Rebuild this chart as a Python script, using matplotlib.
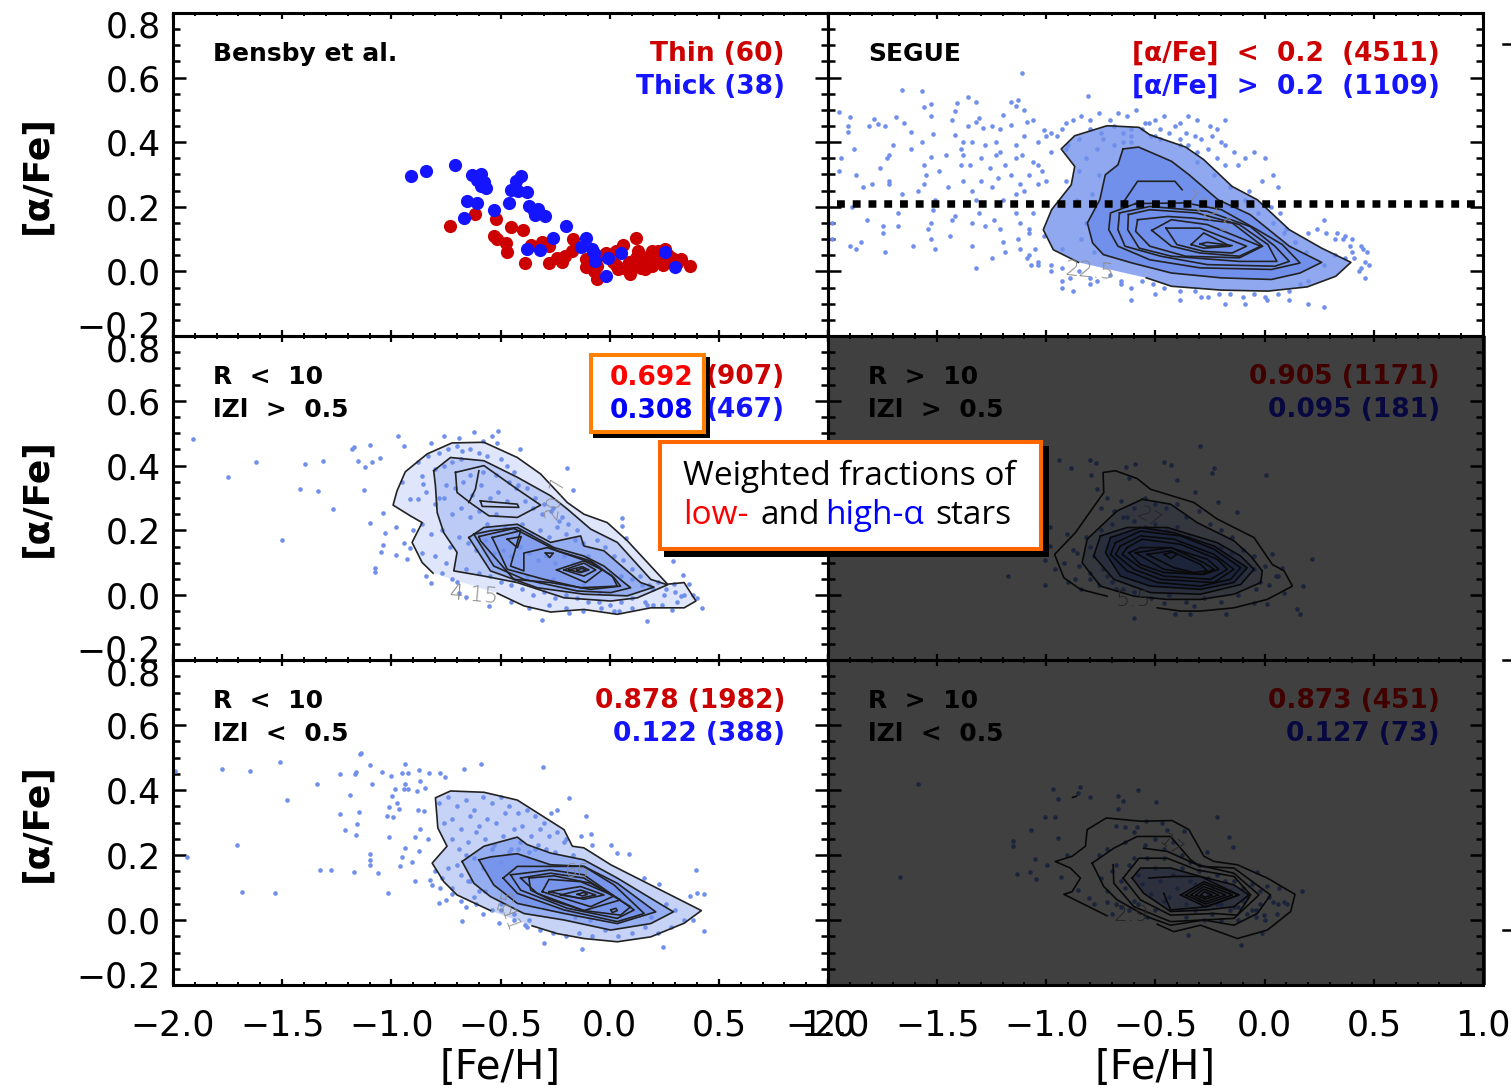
import matplotlib
matplotlib.use("Agg")
import matplotlib.pyplot as plt
from matplotlib.patches import Rectangle
from matplotlib.lines import Line2D
from matplotlib.ticker import MultipleLocator
from matplotlib.transforms import ScaledTranslation

W, H = 1511, 1090
BLUE_PT = "#7090ec"
RED_D = "#cc0000"
BLUE_T = "#1414ff"

# ---------------- data ----------------
bensby_thick_x = [-.91,-.84,-.709,-.632,-.588,-.575,-.588,-.566,-.408,-.427,-.452,-.418,-.378,-.46,-.653,-.607,-.529,-.37,-.328,-.342,-.296,-.669,-.198,-.26,-.378,-.321,-.108,-.132,-.08,-.067,-.009,.051,.252,.301,-.018,-.07,-.346,-.607]
bensby_thick_y = [.295,.31,.328,.298,.303,.276,.264,.259,.295,.279,.253,.248,.245,.212,.219,.212,.19,.204,.192,.176,.171,.166,.142,.104,.068,.065,.104,.076,.07,.032,.042,.057,.06,.013,-.015,.058,.186,.284]
bensby_thin_x = [-.73,-.619,-.52,-.452,-.399,-.529,-.517,-.476,-.468,-.386,-.362,-.312,-.279,-.168,-.173,-.206,-.239,-.279,-.217,-.108,-.108,-.058,-.058,-.018,.031,.061,.121,.13,.121,.031,.04,.094,.097,.13,.162,.195,.195,.22,.252,.245,.285,.329,.368,.162,.211,.13,.065,.179,.269,.31,.014,-.071,.079,.143,.229,.175,.261,-.028,.089,.293]
bensby_thin_y = [.14,.179,.161,.138,.128,.111,.101,.088,.061,.027,.081,.091,.078,.099,.063,.047,.042,.027,.029,.039,.014,.016,-.023,.057,.063,.083,.102,.063,.042,.021,.006,-.009,.021,.027,.006,.063,.016,.063,.068,.021,.042,.039,.018,.037,.032,.052,.011,.047,.052,.027,.03,.0,.01,.01,.04,.03,.03,.05,.03,.035]

segue_x = [-1.11,-1.66,-1.57,-1.36,-1.32,-1.41,-1.53,-1.56,-1.16,-1.13,-1.14,-.81,-1.95,-1.90,-1.79,-1.69,-1.53,-1.42,-1.43,-1.31,-1.32,-1.20,-1.10,-1.77,-1.81,-1.74,-1.65,-1.91,-1.91,-1.62,-1.52,-1.42,-1.36,-1.29,-1.25,-1.21,-1.16,-1.09,-1.06,-1.01,
 -1.88,-1.94,-1.70,-1.72,-1.62,-1.57,-1.53,-1.39,-1.38,-1.34,-1.28,-1.23,-1.21,-1.14,-1.10,-1.04,-1.0,-.95,-.91,-1.95,-1.87,-1.76,-1.73,-1.72,-1.56,-1.55,-1.49,-1.46,-1.39,-1.38,-1.35,-1.30,-1.26,-1.23,-1.19,-1.14,-1.11,-1.06,-1.02,-.98,
 -1.84,-1.80,-1.72,-1.59,-1.56,-1.45,-1.38,-1.30,-1.22,-1.16,-1.12,-1.08,-1.04,-1.0,-1.66,-1.66,-1.52,-1.51,-1.43,-1.34,-1.32,-1.25,-1.20,-1.14,-1.10,-1.07,-1.04,-1.98,-1.89,-1.82,-1.75,-1.68,-1.54,-1.53,-1.42,-1.34,-1.31,-1.28,-1.24,-1.21,-1.14,-1.12,-1.08,-1.06,-1.98,-1.90,-1.85,-1.75,-1.68,-1.61,-1.53,-1.51,-1.44,-1.34,-1.20,-1.13,-1.12,-1.08,-1.05,-1.01,-1.87,-1.74,-1.32,-1.25,-1.19,-1.08,-1.04,-.98,-.93,-.93,
 -.98,-.93,-.91,-.88,-.84,-.8,-.76,-.71,-.67,-.63,-.59,-.53,-.5,-.46,-.39,-.35,-.31,-.25,-.22,-.18,-.9,-.85,-.8,-.75,-.69,-.65,-.61,-.55,-.48,-.41,-.36,-.32,-.29,-.24,-.2,-.14,-.09,-.18,-.12,-.05,.0,.04,.06,-.01,-.07,.03,.07,.1,.14,.2,.27,.32,.36,.39,.41,.4,.37,.32,.27,.44,.46,.48,.43,.46,
 .47,.45,.44,.4,.37,.33,.28,.24,.2,.16,.11,.06,.0,-.05,-.1,-.16,-.21,-.26,-.32,-.39,-.46,-.51,-.56,-.61,-.66,-.71,-.77,-.8,-.85,-.89,-.93,-.98,-1.04,-1.07,-1.09,-.93,-.88,-.8,-.66,-.61,-.5,-.39,-.29,-.18,-.09,.01,.11,.2,.27,
 -.91,-.85,-.82,-.77,-.74,-.69,-.65,-.61,-.56,-.52,-.48,-.44,-.39,-.35,-.31,-.26,-.22,-.18,-.86,-.79,-.84,-.76,-.78,-.82,-.61,-.5,-.39,-.31,-.23,-.16,-.09,-.03,.04,.09,.14,.19,.23]
segue_y = [.614,.562,.56,.54,.526,.521,.519,.509,.526,.531,.511,.544,.492,.478,.473,.478,.48,.498,.47,.475,.462,.485,.5,.457,.449,.449,.46,.449,.433,.433,.426,.423,.449,.444,.451,.44,.454,.464,.469,.439,
 .38,.35,.39,.36,.38,.4,.355,.38,.4,.4,.39,.4,.37,.39,.42,.4,.42,.42,.38,.31,.3,.32,.35,.27,.33,.3,.31,.36,.33,.36,.33,.35,.32,.36,.33,.35,.36,.34,.31,.37,
 .26,.27,.28,.25,.27,.26,.28,.28,.29,.3,.27,.3,.33,.28,.24,.21,.19,.22,.16,.25,.22,.26,.22,.24,.25,.21,.27,.15,.2,.16,.14,.18,.13,.15,.17,.15,.18,.14,.16,.13,.18,.15,.13,.18,.1,.08,.09,.12,.14,.08,.1,.07,.11,.08,.09,.1,.07,.12,.07,.11,.07,.06,.01,.04,.06,.05,.03,.02,.07,-.03,
 .43,.44,.46,.47,.48,.47,.49,.47,.49,.48,.5,.46,.47,.48,.46,.48,.47,.45,.44,.47,.39,.41,.44,.43,.45,.43,.44,.46,.44,.45,.43,.42,.41,.42,.4,.37,.35,.39,.33,.37,.35,.3,.26,.28,.25,.2,.18,.13,.09,.12,.16,.1,.1,.08,.04,.06,.04,.05,.02,.01,.03,.02,.0,-.02,
 .06,.07,.08,.1,.11,.12,.12,.13,-.03,-.04,-.06,-.07,-.08,-.07,-.08,-.07,-.07,-.08,-.06,-.06,-.05,-.04,-.03,-.05,-.03,-.01,-.03,-.04,.0,-.02,.01,.0,.02,.02,.04,-.05,-.06,-.02,-.04,-.09,-.07,-.09,-.08,-.1,-.1,-.09,-.09,-.1,-.11,
 .28,.31,.35,.38,.41,.39,.4,.42,.44,.42,.41,.43,.41,.39,.37,.38,.35,.33,.22,.24,.1,.3,.06,.15,.4,.42,.39,.34,.3,.26,.22,.18,.15,.12,.09,.06,.03]

p2_x = [-1.908,-1.748,-1.619,-1.5,-1.417,-1.395,-1.335,-1.312,-1.266,-1.179,-1.151,-1.17,-1.10,-1.05,-1.09,-1.12,-.97,-.94,-.82,-.76,-.69,-.62,-.54,-.51,-.515,-.41,-.675,-.58,-1.127,-1.04,-1.096,-.98,-1.03,-1.04,-1.047,-.98,-.93,-1.073,-1.073,-.915,-.88,-.913,-.95,-.859,-.855,-.197,-.167,.058,.058,.074,.288,.334,.364,.295,.425,.402,.326,.287,.173,.043,-.186,-.31,-.553,-.66,-.69,-.82,
 -.88,-.83,-.78,-.74,-.7,-.64,-.6,-.56,-.5,-.47,-.44,-.8,-.76,-.72,-.68,-.64,-.58,-.52,-.46,-.42,-.38,-.34,-.3,-.26,-.22,-.78,-.75,-.71,-.67,-.63,-.59,-.55,-.51,-.47,-.43,-.39,-.35,-.31,-.27,-.23,-.19,-.15,-.84,-.8,-.76,-.72,-.68,-.64,-.6,-.56,-.52,-.48,-.44,-.4,-.36,-.32,-.28,-.24,-.2,-.16,-.12,-.86,-.82,-.77,-.73,-.69,-.65,-.61,-.57,-.53,-.49,-.45,-.41,-.37,-.33,-.29,-.25,-.21,-.17,-.13,-.09,
 -.06,-.02,.02,.06,.1,.14,.18,.22,.26,.3,.34,.38,-.1,-.05,.0,.05,.1,.15,.2,.25,-.45,-.4,-.35,-.3,-.25,-.2,-.15,-.1,-.05,.0,.05,.1,.16,.2,-.45,-.37,-.28,-.2,-.12,-.04,.02,.1,.17,.24,.31,-.84,-.77,-.72,-.66,-.6,-.55,-.5,-.44,-.38,-.32,-.26,-.2,-.12,-.05,-.9,-.86,-.94,-.8,-.75,-.7]
p2_y = [.482,.365,.411,.17,.328,.405,.321,.414,.266,.451,.414,.456,.465,.425,.41,.397,.492,.461,.47,.492,.485,.503,.49,.508,.47,.451,.446,.477,.324,.255,.222,.211,.193,.155,.132,.124,.111,.085,.073,.147,.297,.297,.348,.369,.343,.392,.325,.237,.214,.178,.106,.063,.036,.036,-.038,-.008,-.002,-.046,-.08,-.05,-.054,-.078,-.033,-.006,.008,.037,
 .41,.43,.44,.45,.46,.45,.44,.43,.42,.4,.38,.39,.4,.41,.42,.37,.38,.37,.35,.34,.33,.3,.28,.27,.24,.3,.34,.33,.35,.31,.34,.3,.32,.29,.33,.29,.27,.25,.26,.23,.22,.2,.32,.28,.3,.25,.27,.24,.26,.22,.25,.21,.2,.22,.19,.2,.18,.21,.19,.17,.16,.22,.19,.2,.15,.18,.16,.14,.17,.13,.14,.12,.15,.13,.11,.12,.1,.12,.1,.08,.09,
 .17,.15,.12,.11,.08,.06,.03,.04,.02,.01,.0,.0,.12,.09,.07,.06,.05,.03,.02,.0,.03,.02,.0,.01,-.01,.0,-.01,-.02,-.02,-.03,-.02,-.01,-.02,-.03,-.02,-.04,-.03,-.04,-.05,-.04,-.05,-.04,-.03,-.03,-.02,.06,.07,.05,.08,.07,.06,.04,.05,.06,.04,.05,.03,.03,.01,.2,.13,.16,.12,.1,.04]

p3_x = [-1.99,-1.936,-1.775,-1.706,-1.683,-1.647,-1.532,-1.477,-1.509,-1.339,-1.326,-1.275,-1.234,-1.234,-1.165,-1.142,-1.096,-1.188,-1.211,-1.156,-1.14,-1.096,-1.162,-1.043,-1.0,-.95,-.925,-.936,-.875,-.826,-.775,-.755,-.665,-.59,-.304,-1.088,-.939,-.87,-.982,-.943,-.925,-.844,-.882,-.997,-.974,-1.009,-.966,-.878,-.852,-1.15,-1.02,-.994,-.87,-1.16,-1.012,-.89,-.833,-.936,-1.1,-.951,-.871,-1.1,-.962,-.905,-1.17,-1.061,-.893,-1.017,-.824,-.816,-.778,-.749,-.782,-.676,-.508,-.388,-.301,-.125,.242,.433,.395,.402,.433,.369,-.186,-.11,-.24,.005,.09,.035,-.079,-.087,-.133,.155,.226,
 -.78,-.74,-.7,-.66,-.62,-.58,-.54,-.5,-.46,-.42,-.38,-.34,-.3,-.27,-.76,-.72,-.68,-.64,-.6,-.56,-.52,-.48,-.44,-.4,-.36,-.32,-.28,-.24,-.2,-.72,-.69,-.65,-.61,-.57,-.53,-.49,-.45,-.41,-.37,-.33,-.29,-.25,-.21,-.17,-.7,-.66,-.62,-.58,-.54,-.5,-.46,-.42,-.38,-.34,-.8,-.77,-.74,-.72,-.68,-.64,-.6,-.72,-.68,-.65,-.61,-.57,-.54,-.66,-.62,-.58,-.5,-.44,-.38,-.32,-.26,-.2,-.14,-.08,-.02,.04,.1,.16,.22,.28,.34,.38,-.5,-.44,-.37,-.3,-.23,-.16,-.09,-.02,.05,.12,.19,.26,.3]
p3_y = [.457,.195,.464,.232,.087,.457,.083,.368,.485,.417,.155,.155,.325,.448,.448,.51,.185,.386,.278,.294,.515,.477,.455,.455,.443,.451,.451,.479,.461,.451,.453,.44,.464,.479,.472,.417,.419,.428,.404,.404,.402,.407,.397,.381,.361,.347,.342,.337,.335,.333,.319,.316,.281,.263,.255,.255,.25,.221,.204,.194,.211,.17,.167,.177,.147,.144,.12,.082,.123,.108,.098,.062,.051,-.002,-.01,-.016,-.072,-.088,-.083,-.034,.154,.084,.079,.075,.376,.32,.34,.23,.204,.206,.232,.265,.257,.129,.111,
 .36,.38,.35,.37,.34,.38,.36,.38,.35,.33,.34,.32,.3,.33,.3,.31,.28,.32,.29,.31,.3,.33,.28,.29,.26,.28,.26,.27,.25,.25,.22,.24,.27,.25,.23,.26,.22,.24,.21,.23,.22,.21,.24,.2,.17,.2,.19,.16,.22,.18,.21,.22,.19,.22,.15,.13,.16,.1,.14,.12,.09,.08,.06,.12,.05,.09,.03,.04,.07,.02,.05,.0,-.02,-.03,-.04,-.05,-.04,-.05,-.03,-.05,-.04,-.02,-.04,-.02,.0,.0,.03,.02,.0,.04,.03,.01,.0,.02,.0,.03,.01,.05,.03]

p4_x = [-.297,-.943,-.885,-.801,-.772,-.592,-.633,-.462,-.431,-.232,-.243,.008,-.401,-.795,-.622,-.32,-.213,-.125,-.768,.035,.216,.177,.147,.162,-1.177,-1.005,-.962,-1.005,-.982,-.982,-.905,-.599,-.411,-.344,-.179,-.462,-.324,-.049,.081,.089,.012,
 -.75,-.72,-.69,-.66,-.63,-.6,-.55,-.5,-.45,-.4,-.36,-.3,-.25,-.2,-.15,-.1,-.05,.0,.05,-.88,-.85,-.82,-.8,-.9,-.87,-.84,-.8,-.76,-.72,-.68,-.6,-.52,-.44,-.36,-.28,-.2,-.12,-.04,.02,.06,-.92,-.86,-.8,-.75,-.7,-.65,-.6,-.55,-.5,-.45,-.4,-.35,-.3,-.25,-.2,-.15,-.1,-.05,-.02,-.78,-.74,-.7,-.65,-.6,-.56,-.5,-.46,-.42]
p4_y = [.461,.418,.394,.418,.408,.405,.396,.41,.403,.392,.376,.372,.356,.372,.363,.317,.288,.257,.327,.126,.111,.028,-.044,-.057,.059,.033,.08,.11,.152,.209,.188,-.07,-.059,-.059,-.059,-.023,-.034,-.023,.085,.008,-.028,
 .27,.3,.26,.29,.24,.27,.3,.28,.27,.28,.24,.26,.22,.2,.18,.14,.12,.09,.06,.14,.09,.18,.05,.04,.05,.02,.07,.03,.06,.02,.01,-.01,.0,-.02,-.01,-.02,.0,.02,.03,.06,.1,.13,.15,.2,.22,.24,.23,.21,.22,.2,.21,.18,.16,.14,.15,.13,.09,.08,.04,.12,.08,.04,.02,.06,.1,.04,.08,.14]

p6_x = [-1.587,-1.67,-.844,-.969,-.856,-.948,-.798,-.671,-.648,-.578,-.497,-.671,-1.005,-.959,-.22,-1.07,-.946,-1.154,-1.154,-1.054,-.997,-1.135,-1.073,-1.049,-.931,-.164,-.144,-.263,-.034,.012,.066,.17,.089,.104,.04,.058,-.003,-.11,-.35,-.011,-.855,-.806,-.722,-.78,-.905,
 -.683,-.638,-.6,-.584,-.543,-.469,-.446,-.37,-.76,-.72,-.68,-.64,-.6,-.55,-.5,-.46,-.42,-.38,-.34,-.3,-.75,-.7,-.66,-.62,-.58,-.54,-.5,-.46,-.42,-.38,-.34,-.3,-.26,-.22,-.18,-.14,-.1,-.06,-.02,.02,.06,-.72,-.68,-.64,-.6,-.56,-.52,-.48,-.44,-.4,-.36,-.32,-.28,-.24,-.2,-.16,-.12,-.08,-.04,-.7,-.66,-.62,-.58,-.54,-.5,-.46,-.36,-.32,-.28,-.24,-.2,-.16,-.12,-.08,-.04,.0,-.3,-.26,-.22,-.18,-.14,-.1,-.06,-.02]
p6_y = [.417,.133,.41,.402,.39,.371,.379,.381,.366,.4,.364,.343,.317,.317,.316,.276,.252,.242,.229,.188,.17,.143,.149,.126,.131,.254,.224,.209,.149,.106,.1,.09,.054,.048,.056,.018,.015,-.078,-.045,-.04,.093,.069,.054,.048,.2,
 .288,.286,.27,.286,.304,.299,.278,.275,.2,.22,.17,.24,.19,.23,.25,.22,.24,.2,.18,.17,.13,.15,.12,.17,.14,.19,.16,.19,.14,.16,.12,.15,.13,.14,.12,.12,.1,.11,.09,.07,.05,.09,.05,.1,.06,.11,.08,.12,.07,.1,.05,.11,.06,.1,.05,.09,.04,.07,.03,.02,.04,.03,.05,.01,.03,.06,.01,.03,.0,.02,.0,.03,.0,.02,.01,.0,.06,.08,.05,.07,.04,.06,.03,.05]

segue_contours = [
 [(-.853,.028),(-.968,.067),(-1.014,.129),(-.976,.191),(-.886,.268),(-.87,.325),(-.932,.379),(-.87,.42),(-.722,.451),(-.575,.446),(-.526,.423),(-.362,.385),(-.279,.346),(-.149,.263),(-.034,.222),(.113,.129),(.261,.072),(.395,.028),(.326,-.015),(.195,-.048),(.015,-.061),(-.198,-.058),(-.427,-.046),(-.542,-.02)],
 [(-.649,.379),(-.578,.385),(-.427,.341),(-.346,.299),(-.214,.222),(-.067,.176),(.113,.078),(.261,.028),(.162,-.005),(.031,-.025),(-.198,-.02),(-.427,-.005),(-.607,.026),(-.739,.052),(-.788,.088),(-.812,.15),(-.755,.222),(-.73,.299),(-.672,.33),(-.649,.379)],
 [(-.649,.212),(-.582,.279),(-.411,.279),(-.378,.253)],
 [(-.591,.21),(-.706,.181),(-.714,.129),(-.672,.078),(-.526,.036),(-.296,.011),(.031,.006),(.162,.026),(.081,.083),(-.034,.129),(-.198,.191),(-.362,.212),(-.591,.21)],
 [(-.665,.181),(-.672,.129),(-.64,.078),(-.476,.047),(-.263,.021),(.047,.016),(.113,.031),(.047,.078),(-.067,.139),(-.263,.186),(-.526,.201),(-.665,.181)],
 [(-.624,.176),(-.627,.129),(-.575,.072),(-.427,.047),(-.116,.031),(.056,.031),(.015,.083),(-.116,.145),(-.312,.181),(-.526,.191),(-.624,.176)],
 [(-.582,.16),(-.591,.124),(-.526,.078),(-.362,.047),(-.116,.042),(-.009,.078),(-.149,.15),(-.328,.165),(-.443,.17),(-.582,.16)],
 [(-.517,.127),(-.427,.16),(-.263,.145),(-.018,.078),(-.116,.047),(-.296,.057),(-.427,.078),(-.517,.127)],
 [(-.452,.134),(-.296,.134),(-.083,.078),(-.149,.057),(-.279,.062),(-.402,.083),(-.452,.134)],
 [(-.337,.083),(-.279,.119),(-.157,.078),(-.279,.072),(-.337,.083)],
 [(-.296,.085),(-.263,.09),(-.149,.08),(-.263,.078),(-.296,.085)],
]
p2_contours = [
 [(-.809,.068),(-.859,.101),(-.905,.163),(-.859,.224),(-.913,.245),(-.992,.278),(-.974,.322),(-.936,.381),(-.836,.436),(-.722,.47),(-.576,.472),(-.423,.425),(-.316,.374),(-.194,.286),(-.118,.25),(-.011,.224),(.081,.168),(.265,.034),(.341,.039),(.395,-.018),(.341,-.039),(.188,-.039),(.035,-.059),(-.118,-.044),(-.271,-.052),(-.393,-.033),(-.515,.006)],
 [(-.806,.384),(-.729,.425),(-.576,.415),(-.423,.364),(-.271,.307),(-.194,.266),(-.087,.204),(.035,.163),(.188,.049),(.265,.032),(.127,-.008),(.005,-.018),(-.209,-.008),(-.423,.039),(-.576,.059),(-.714,.075),(-.699,.132),(-.76,.193),(-.79,.255),(-.798,.338),(-.806,.384)],
 [(-.706,.379),(-.576,.4),(-.423,.327),(-.316,.278),(-.423,.24),(-.553,.245),(-.63,.281),(-.699,.317),(-.706,.379)],
 [(-.599,.384),(-.615,.327),(-.645,.286)],
 [(-.592,.291),(-.423,.281),(-.416,.271),(-.584,.274),(-.592,.291)],
 [(-.645,.178),(-.576,.209),(-.423,.219),(-.271,.163),(-.133,.183),(-.118,.152),(-.026,.137),(.142,.039),(.203,.025),(.081,-.002),(-.118,.003),(-.332,.023),(-.546,.075),(-.645,.178)],
 [(-.622,.188),(-.546,.199),(-.423,.209),(-.255,.147),(-.118,.121),(-.026,.09),(.066,.039),(.096,.023),(.005,.008),(-.148,.013),(-.393,.049),(-.531,.09),(-.622,.188)],
 [(-.599,.181),(-.439,.206),(-.24,.137),(-.087,.106),(.02,.054),(.05,.028),(-.087,.018),(-.271,.039),(-.439,.049),(-.592,.168),(-.599,.181)],
 [(-.538,.178),(-.408,.199),(-.454,.09),(-.393,.075),(-.393,.13),(-.286,.147),(-.087,.101),(.012,.059),(.035,.028),(-.133,.023),(-.301,.049),(-.469,.08),(-.538,.178)],
 [(-.469,.173),(-.405,.181),(-.423,.147),(-.469,.173)],
 [(-.294,.13),(-.258,.13),(-.275,.116),(-.294,.13)],
 [(-.243,.078),(-.118,.106),(-.034,.078),(-.11,.039),(-.243,.078)],
 [(-.209,.078),(-.118,.099),(-.064,.078),(-.118,.059),(-.209,.078)],
 [(-.186,.078),(-.125,.088),(-.095,.078),(-.133,.07),(-.186,.078)],
 [(-.151,.078),(-.125,.083),(-.11,.078),(-.133,.072),(-.151,.078)],
]
p3_contours = [
 [(-.546,.029),(-.699,.077),(-.76,.118),(-.813,.175),(-.745,.227),(-.787,.283),(-.798,.376),(-.729,.397),(-.576,.393),(-.423,.369),(-.209,.278),(-.171,.227),(-.118,.222),(.005,.17),(.42,.029),(.341,-.01),(.188,-.052),(.035,-.067),(-.118,-.057),(-.24,-.042),(-.355,-.018)],
 [(-.676,.18),(-.576,.227),(-.423,.255),(-.378,.232),(-.271,.206),(-.118,.185),(.035,.129),(.292,.025),(.188,-.011),(.005,-.031),(-.209,.0),(-.393,.02),(-.546,.072),(-.622,.113),(-.676,.18)],
 [(-.599,.185),(-.546,.194),(-.423,.204),(-.271,.17),(-.118,.165),(.035,.113),(.211,.025),(.035,-.011),(-.209,.02),(-.423,.051),(-.531,.108),(-.599,.185)],
 [(-.488,.129),(-.423,.165),(-.118,.165),(.02,.108),(.158,.02),(.035,-.005),(-.209,.031),(-.423,.082),(-.488,.129)],
 [(-.454,.139),(-.271,.154),(-.118,.139),(.112,.031),(.035,.005),(-.194,.036),(-.408,.092),(-.454,.139)],
 [(-.408,.129),(-.271,.144),(-.118,.129),(.096,.041),(.05,.015),(-.118,.029),(-.332,.082),(-.408,.129)],
 [(-.37,.129),(-.255,.136),(-.087,.113),(.05,.062),(-.118,.029),(-.271,.062),(-.362,.092),(-.37,.129)],
 [(-.309,.087),(-.278,.125),(-.133,.118),(.02,.074),(-.087,.041),(-.309,.087)],
 [(-.278,.087),(-.133,.103),(-.026,.077),(-.118,.064),(-.278,.087)],
 [(-.225,.077),(-.133,.092),(-.064,.077),(-.133,.067),(-.225,.077)],
 [(-.148,.079),(-.118,.085),(-.102,.079),(-.125,.074),(-.148,.079)],
 [(.005,.031),(.028,.036),(.035,.029),(.012,.023),(.005,.031)],
]
p4_contours = [
 [(-.722,-.003),(-.844,.018),(-.92,.054),(-.962,.126),(-.867,.193),(-.737,.317),(-.74,.379),(-.683,.384),(-.584,.36),(-.523,.327),(-.324,.286),(-.217,.235),(-.049,.178),(.035,.095),(.089,.075),(.127,.028),(.012,-.013),(-.141,-.039),(-.294,-.049),(-.385,-.049),(-.492,-.039)],
 [(-.561,.296),(-.431,.281),(-.309,.224),(-.141,.168),(-.064,.121),(-.011,.075),(-.018,.039),(-.141,.003),(-.294,-.013),(-.446,-.013),(-.599,-.003),(-.752,.028),(-.836,.1),(-.813,.173),(-.676,.26),(-.561,.296)],
 [(-.752,.183),(-.63,.209),(-.446,.209),(-.217,.162),(-.11,.121),(-.049,.08),(-.11,.033),(-.294,.003),(-.523,.008),(-.691,.049),(-.783,.121),(-.752,.183)],
 [(-.706,.178),(-.569,.209),(-.416,.193),(-.232,.152),(-.08,.085),(-.141,.039),(-.294,.018),(-.523,.028),(-.661,.059),(-.729,.131),(-.706,.178)],
 [(-.683,.162),(-.569,.198),(-.385,.183),(-.232,.142),(-.11,.085),(-.156,.049),(-.294,.028),(-.492,.039),(-.63,.075),(-.706,.126),(-.683,.162)],
 [(-.661,.152),(-.569,.183),(-.416,.173),(-.232,.126),(-.141,.08),(-.232,.039),(-.477,.049),(-.599,.08),(-.683,.126),(-.661,.152)],
 [(-.63,.147),(-.561,.173),(-.385,.157),(-.217,.111),(-.171,.08),(-.248,.049),(-.462,.059),(-.569,.085),(-.653,.126),(-.63,.147)],
 [(-.622,.131),(-.569,.147),(-.431,.147),(-.263,.111),(-.21,.08),(-.278,.064),(-.462,.07),(-.569,.095),(-.622,.131)],
 [(-.592,.131),(-.431,.147),(-.278,.1),(-.232,.08),(-.294,.064),(-.462,.08),(-.592,.131)],
 [(-.538,.126),(-.431,.137),(-.294,.095),(-.263,.075),(-.324,.07),(-.416,.085),(-.538,.126)],
 [(-.459,.126),(-.424,.133),(-.401,.126),(-.431,.113),(-.459,.126)],
]
p6_contours = [
 [(-.722,.013),(-.92,.079),(-.882,.087),(-.844,.129),(-.89,.16),(-.959,.18),(-.882,.196),(-.821,.227),(-.813,.278),(-.725,.314),(-.569,.304),(-.424,.306),(-.347,.278),(-.278,.196),(-.232,.18),(-.125,.17),(.012,.129),(.139,.079),(.119,.026),(.012,-.031),(-.125,-.057),(-.294,-.016),(-.416,-.036),(-.492,-.013)],
 [(-.79,.175),(-.691,.221),(-.584,.257),(-.431,.257),(-.339,.185),(-.294,.165),(-.141,.16),(.027,.077),(-.034,.02),(-.141,-.016),(-.278,.0),(-.431,-.016),(-.538,.01),(-.676,.062),(-.737,.103),(-.79,.175)],
 [(-.694,.17),(-.691,.113),(-.599,.041),(-.431,-.005),(-.141,.005),(-.026,.077),(-.141,.144),(-.309,.17),(-.446,.211),(-.554,.221)],
 [(-.648,.129),(-.576,.19),(-.446,.19),(-.309,.154),(-.141,.134),(-.064,.077),(-.125,.015),(-.232,.02),(-.431,.015),(-.569,.062),(-.648,.129)],
 [(-.607,.129),(-.569,.16),(-.431,.16),(-.294,.134),(-.141,.108),(-.072,.077),(-.141,.041),(-.263,.031),(-.431,.026),(-.554,.082),(-.607,.129)],
 [(-.531,.129),(-.416,.134),(-.294,.134),(-.118,.077),(-.263,.041),(-.431,.031),(-.462,.082)],
 [(-.385,.077),(-.278,.118),(-.118,.077),(-.271,.041),(-.385,.077)],
 [(-.362,.077),(-.278,.111),(-.148,.077),(-.271,.049),(-.362,.077)],
 [(-.339,.077),(-.278,.103),(-.179,.077),(-.271,.056),(-.339,.077)],
 [(-.316,.077),(-.278,.095),(-.21,.077),(-.271,.064),(-.316,.077)],
 [(-.294,.077),(-.275,.087),(-.24,.077),(-.271,.07),(-.294,.077)],
 [(-.88,.377),(-.862,.381)],
]
y_ticks = [-0.2, 0.0, 0.2, 0.4, 0.6, 0.8]
y_labels = ["−0.2", "0.0", "0.2", "0.4", "0.6", "0.8"]
x_ticks = [-2.0, -1.5, -1.0, -0.5, 0.0, 0.5, 1.0]
x_labels = ["−2.0", "−1.5", "−1.0", "−0.5", "0.0", "0.5", "1.0"]

# ---------------- figure ----------------
plt.rcParams["font.family"] = ["DejaVu Sans"]
fig = plt.figure(figsize=(W / 100, H / 100), dpi=100)
fx = lambda p: p / W
fy = lambda p: 1 - p / H
col_l = [173, 828]
row_t = [13, 336, 660]
row_b = [336, 660, 985]
CW = 655


def make_ax(r, c):
    ax = fig.add_axes([fx(col_l[c]), fy(row_b[r]), CW / W, (row_b[r] - row_t[r]) / H])
    ax.patch.set_alpha(0)
    ax.set_xlim(-2, 1)
    ax.set_ylim(-0.2, 0.8)
    ax.set_xticks(x_ticks)
    ax.set_yticks(y_ticks)
    ax.xaxis.set_minor_locator(MultipleLocator(0.1))
    ax.yaxis.set_minor_locator(MultipleLocator(0.05))
    ax.tick_params(axis="x", which="major", direction="in", top=True, bottom=True, length=4.3, width=1.6, pad=17, labelsize=25)
    ax.tick_params(axis="x", which="minor", direction="in", top=True, bottom=True, length=2.4, width=1.4)
    ax.tick_params(axis="y", which="major", direction="in", left=True, right=True, length=9.4, width=1.8, pad=9, labelsize=25)
    ax.tick_params(axis="y", which="minor", direction="in", left=True, right=True, length=4.7, width=1.8)
    for s in ax.spines.values():
        s.set_linewidth(2.2)
    if r == 2:
        ax.set_xticklabels(x_labels)
        ax.set_xlabel("[Fe/H]", fontsize=29, labelpad=4)
    else:
        ax.set_xticklabels([])
    if c == 0:
        ax.set_yticklabels(y_labels)
        lab = ax.get_yticklabels()
        lab[0].set_transform(lab[0].get_transform() + ScaledTranslation(0, 0.115, fig.dpi_scale_trans))
        lab[-1].set_transform(lab[-1].get_transform() + ScaledTranslation(0, -0.115, fig.dpi_scale_trans))
        ax.set_ylabel("[α/Fe]", fontsize=26, fontweight="bold")
        ax.yaxis.set_label_coords(-0.183, 0.5)
    else:
        ax.set_yticklabels([])
    return ax


def corner(ax, lines_left, lines_right):
    h = ax.get_window_extent().height
    for i, t in enumerate(lines_left):
        ax.text(40 / CW, 1 - (41 + 33 * i) / h, t, transform=ax.transAxes, fontsize=18, fontweight="bold", va="center", color="black")
    for i, (t, col) in enumerate(lines_right):
        ax.text(612 / CW, 1 - (41 + 33 * i) / h, t, transform=ax.transAxes, fontsize=19, fontweight="bold", va="center", ha="right", color=col)


def draw_density(ax, xs, ys, contours, fills):
    for idx, col in fills:
        c = contours[idx]
        ax.fill([p[0] for p in c], [p[1] for p in c], color=col, lw=0, zorder=1)
    ax.scatter(xs, ys, s=11, color=BLUE_PT, lw=0, zorder=2)
    for c in contours:
        ax.plot([p[0] for p in c], [p[1] for p in c], color="#222222", lw=1.2, zorder=3)


def clabel(ax, x, y, t, rot=0, size=16):
    ax.text(x, y, t, color="#8a8a8a", fontsize=size, rotation=rot, ha="center", va="center", zorder=4, fontweight="light")


# panel: Bensby
ax = make_ax(0, 0)
ax.scatter(bensby_thin_x, bensby_thin_y, s=90, color=RED_D, lw=0, zorder=2)
ax.scatter(bensby_thick_x, bensby_thick_y, s=90, color=BLUE_T, lw=0, zorder=3)
corner(ax, ["Bensby et al."], [("Thin (60)", RED_D), ("Thick (38)", BLUE_T)])

# panel: SEGUE
ax = make_ax(0, 1)
draw_density(ax, segue_x, segue_y, segue_contours, [(0, "#8fa8f0"), (1, BLUE_PT)])
ax.plot([-1.96, 1.0], [0.21, 0.21], color="black", lw=5.4, ls=(0, (1.05, 1.05)), dash_capstyle="butt", zorder=5)
clabel(ax, -0.8, 0.0, "22.5", -5)
clabel(ax, -0.26, 0.18, "112.5", -40, 14)
corner(ax, ["SEGUE"], [("[α/Fe]  <  0.2  (4511)", RED_D), ("[α/Fe]  >  0.2  (1109)", BLUE_T)])

# panel: R<10, |Z|>0.5
ax = make_ax(1, 0)
draw_density(ax, p2_x, p2_y, p2_contours, [(0, "#dfe6fb"), (1, "#bccaf6"), (5, "#95adf1"), (6, "#849fee")])
clabel(ax, -0.62, -0.0, "4.15", -5)
clabel(ax, -0.25, 0.30, "20.7", 80, 14)
corner(ax, ["R  <  10", "lZl  >  0.5"], [("(907)", RED_D), ("(467)", BLUE_T)])

# panel: R>10, |Z|>0.5
ax = make_ax(1, 1)
draw_density(ax, p4_x, p4_y, p4_contours, [(1, "#d3ddf9"), (2, "#a3b8f3"), (3, BLUE_PT)])
clabel(ax, -0.6, -0.015, "5.5", 0)
clabel(ax, -0.53, 0.24, "27", -30, 14)
corner(ax, ["R  >  10", "lZl  >  0.5"], [("0.905 (1171)", "#ff0000"), ("0.095 (181)", "#2020ff")])

# panel: R<10, |Z|<0.5
ax = make_ax(2, 0)
draw_density(ax, p3_x, p3_y, p3_contours, [(0, "#c6d3f7"), (1, "#95adf1"), (2, "#7895ec")])
clabel(ax, -0.47, 0.06, "55", 75, 14)
clabel(ax, -0.46, -0.002, "11", -70, 14)
clabel(ax, -0.15, 0.15, "66", 0, 14)
corner(ax, ["R  <  10", "lZl  <  0.5"], [("0.878 (1982)", RED_D), ("0.122 (388)", BLUE_T)])

# panel: R>10, |Z|<0.5
ax = make_ax(2, 1)
draw_density(ax, p6_x, p6_y, p6_contours, [(4, "#b3c5f5")])
clabel(ax, -0.61, 0.015, "2.9", 0)
clabel(ax, -0.43, 0.23, "17", -40, 14)
corner(ax, ["R  >  10", "lZl  <  0.5"], [("0.873 (451)", "#ff0000"), ("0.127 (73)", "#2020ff")])

# dark overlay over the right column lower panels
fig.add_artist(Rectangle((fx(828), fy(985)), (1486 - 828) / W, (985 - 336) / H, transform=fig.transFigure,
                         facecolor="black", alpha=0.75, lw=0, zorder=5))


# call-out boxes
def box(l, t, r, b, col, sh):
    fig.add_artist(Rectangle((fx(l + sh), fy(b + sh)), (r - l) / W, (b - t) / H, transform=fig.transFigure,
                             facecolor="black", lw=0, zorder=6))
    fig.add_artist(Rectangle((fx(l + 2), fy(b - 2)), (r - l - 4) / W, (b - t - 4) / H, transform=fig.transFigure,
                             facecolor="white", edgecolor=col, lw=2.9, zorder=7))


box(589, 353, 706, 434, "#ff8000", 4)
box(658, 440, 1043, 551, "#ff6600", 6)
fig.text(fx(693), fy(378), "0.692", color="#ff0000", fontsize=19, fontweight="bold", ha="right", va="center", zorder=8)
fig.text(fx(693), fy(411), "0.308", color="#0000ff", fontsize=19, fontweight="bold", ha="right", va="center", zorder=8)
for px, py, t, col in [(683, 476, "Weighted fractions of", "black"), (683, 516, "low-", "#ff0000"), (760, 516, "and", "black"),
                       (825, 516, "high-α", "#0000ff"), (935, 516, "stars", "black")]:
    fig.text(fx(px), fy(py), t, color=col, fontsize=24, family="Open Sans", ha="left", va="center", zorder=8)

# stray ticks at the right margin
for py in [44, 660, 930]:
    fig.add_artist(Line2D([fx(1503), fx(1511)], [fy(py), fy(py)], color="black", lw=1.8, transform=fig.transFigure))

fig.savefig("out.png", dpi=100)
